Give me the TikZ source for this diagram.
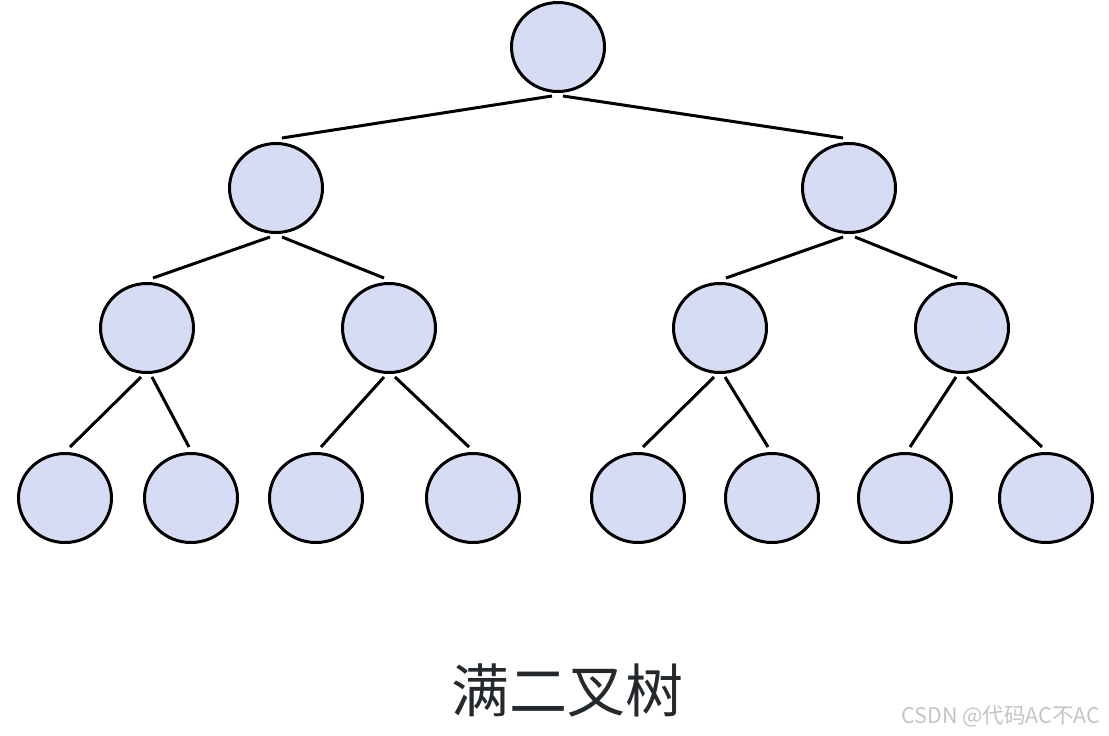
\documentclass[tikz,border=0pt]{standalone}
\usepackage{fontspec}
\newfontfamily\cjk{Noto Sans CJK SC}
\usetikzlibrary{shapes.geometric,calc}
\definecolor{nodefill}{HTML}{D6DCF4}
\definecolor{captext}{HTML}{24292E}
\definecolor{marktext}{HTML}{C4C4C4}

\begin{document}
\begin{tikzpicture}[x=1pt, y=-1pt,
  vertex/.style={ellipse, draw, line width=3pt, fill=nodefill,
    minimum width=93pt, minimum height=89pt, inner sep=0pt},
  edge/.style={line width=3pt}]
  \useasboundingbox (0,0) rectangle (1109,736);

  % levels of the tree
  \node[vertex] (r) at (558,47) {};
  \node[vertex] (a) at (276,188) {};
  \node[vertex] (b) at (849,188) {};
  \foreach \n/\x in {c/147, d/389, e/720, f/962}
    \node[vertex] (\n) at (\x,328) {};
  \foreach \n/\x in {l1/65, l2/191, l3/316, l4/473, l5/638, l6/772, l7/905, l8/1046}
    \node[vertex] (\n) at (\x,498) {};

  % edges, with a small gap at both ends
  \foreach \p/\dp/\c/\dc/\dy in {r/-6/a/6/-4, r/5/b/-6/-4,
      a/-6/c/6/-4, a/6/d/-5/-4, b/-6/e/6/-4, b/6/f/-5/-4,
      c/-6/l1/5/-5, c/5/l2/-2/-5, d/-5/l3/5/-5, d/6/l4/-4/-5,
      e/-6/l5/5/-5, e/5/l6/-4/-5, f/-6/l7/5/-5, f/5/l8/-4/-5}
    \draw[edge] ($(\p.south)+(\dp,3)$) -- ($(\c.north)+(\dc,\dy)$);

  \node[font=\cjk\fontsize{58}{64}\selectfont, text=captext] (cap) at (567,690) {满二叉树};
  \node[font=\cjk\fontsize{21.5}{24}\selectfont, text=marktext, anchor=east] (mark) at (1104,716) {CSDN @代码AC不AC};
\end{tikzpicture}
\end{document}
